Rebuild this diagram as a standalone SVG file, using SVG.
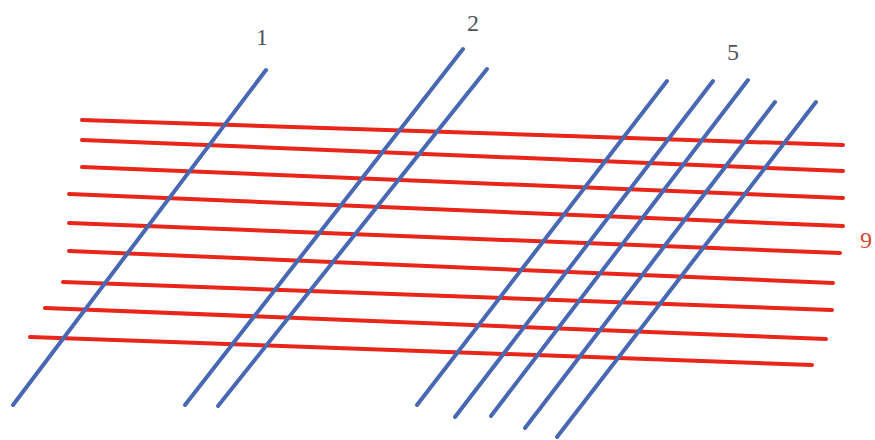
<svg xmlns="http://www.w3.org/2000/svg" width="875" height="440" viewBox="0 0 875 440">
<style>
.b{stroke:#4868b4;stroke-width:4;stroke-linecap:round;fill:none}
.r{stroke:#e8261a;stroke-width:4;stroke-linecap:round;fill:none}
.lbl{font-family:"Liberation Serif","Times New Roman",serif;font-size:24px;fill:#50545e;text-anchor:middle}
.lr{font-family:"Liberation Serif","Times New Roman",serif;font-size:24px;fill:#d6482e}
</style>
<rect width="875" height="440" fill="#ffffff"/>
<g id="red-lines">
<line class="r" x1="82" y1="120" x2="843" y2="145"/>
<line class="r" x1="82" y1="140" x2="843" y2="171"/>
<line class="r" x1="82" y1="167" x2="843" y2="198"/>
<line class="r" x1="69" y1="194" x2="843" y2="226"/>
<line class="r" x1="69" y1="223" x2="840" y2="253"/>
<line class="r" x1="69" y1="251" x2="833" y2="283"/>
<line class="r" x1="63" y1="282" x2="832" y2="310"/>
<line class="r" x1="45" y1="308" x2="826" y2="339"/>
<line class="r" x1="30" y1="337" x2="812" y2="365"/>
</g>
<g id="blue-lines">
<line class="b" x1="266" y1="70" x2="13" y2="405"/>
<line class="b" x1="463" y1="49" x2="185" y2="405"/>
<line class="b" x1="487" y1="69" x2="218" y2="406"/>
<line class="b" x1="667" y1="81" x2="417" y2="405"/>
<line class="b" x1="713" y1="81" x2="455" y2="417"/>
<line class="b" x1="748" y1="80" x2="491" y2="416"/>
<line class="b" x1="775" y1="102" x2="525" y2="428"/>
<line class="b" x1="816" y1="102" x2="557" y2="437"/>
</g>
<g id="labels">
<text class="lbl" x="262" y="45">1</text>
<text class="lbl" x="473" y="31">2</text>
<text class="lbl" x="733" y="60">5</text>
<text class="lr" x="860" y="248">9</text>
</g>
</svg>
